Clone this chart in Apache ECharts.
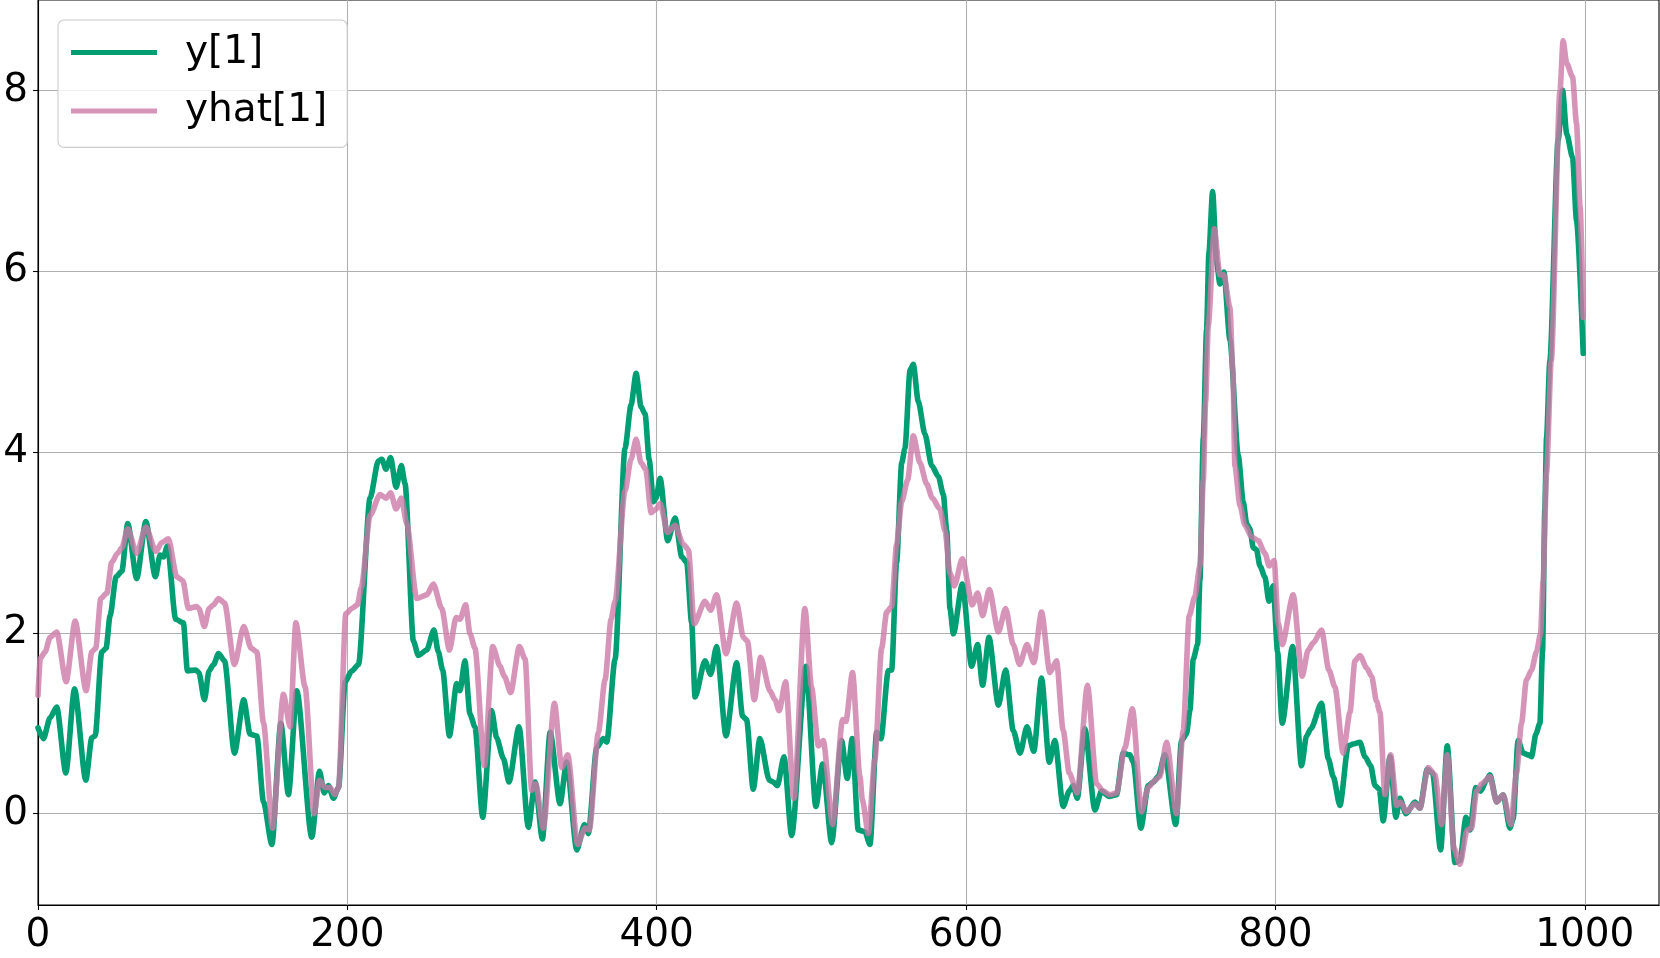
<!DOCTYPE html>
<html>
<head>
<meta charset="utf-8">
<script src="https://cdn.jsdelivr.net/npm/echarts@6.0.0/dist/echarts.min.js"></script>
<style>
  html, body { margin: 0; padding: 0; background: #ffffff; }
  #chart { width: 1660px; height: 958px; }
</style>
</head>
<body>
<div id="chart"></div>
<script>
// ---- data ----
const seriesNames = ['y[1]', 'yhat[1]'];
const xTicks = [0, 200, 400, 600, 800, 1000];
const yTicks = [0, 2, 4, 6, 8];

const xG = [0,3.5,7.8,12.1,18,23.6,30.9,34.8,37,41.2,44,46.6,50.5,54.2,58,63.8,69.7,75.9,78.9,81.1,83.7,89,94,96.6,102,104,107.6,110.6,113.5,116.7,120.6,127,133,137.1,141.5,145.8,151.2,157,161.9,167.3,177,182,185,187.8,191,194.3,198.6,202.9,207.2,214.7,220,222.2,225,228,231.5,234.9,237.3,242.7,245.9,251.3,256,258.8,261.6,266,270.7,272.8,276,279.3,282.5,287.5,293.3,296.5,300.9,304.5,311,317,321.4,326.1,331.1,337.5,341.8,348.3,353.3,355.8,361.2,365.5,367.7,373.1,379.5,383.4,386.7,389.9,392.5,395.1,397.9,399.6,402.2,407.1,411.9,416.2,419.4,422.6,424.8,431.2,434.9,438.7,444.8,451.7,455.5,458.1,462.4,466.7,472.8,475.4,478,482.3,487.2,496.5,502.9,507.3,513.1,519.5,523.2,526.4,530.3,534.6,537.9,542.2,545,549.7,551.9,555.1,558.4,560.5,563.8,565.9,569.1,573.4,577.8,582.1,585.3,587.5,589.6,591.8,597.6,603.6,607.5,610.7,614.8,620.9,625.6,630.5,634.9,639.4,643.8,648.8,653.8,657.4,662.8,666.7,669.3,671.9,676.8,683.3,687.6,692.5,697.3,701.6,705.9,708.1,713,717.8,721,724.2,728.5,735.6,739.3,742.5,744.7,746.9,749.7,751.2,753.4,755.5,757,759.4,762,764.1,766.7,770.6,776,779.2,781.4,783.5,785.7,787.8,790,793.2,795.8,798.6,801.4,804.4,811.1,816.9,820.1,822.9,829.8,834.2,837.4,841.7,847.1,850.3,854.7,857.9,861.6,864.4,867.2,869.7,874.1,877.9,880.5,884.4,890.2,893.4,898.2,901.6,906.8,911.1,916.1,919.3,923.2,925.8,929.6,932.7,936.5,938.7,943,947.3,951.6,953.7,956.9,960.2,963.4,965.6,968.4,971,972.7,974.2,975.3,977.4,982.8,985.7,988.3,992.1,994.7,999];
const yG = [0.95,0.83,1.06,1.18,0.45,1.38,0.37,0.84,0.86,1.79,1.83,2.19,2.62,2.68,3.21,2.60,3.23,2.62,2.86,2.84,2.96,2.15,2.11,1.58,1.59,1.56,1.26,1.58,1.65,1.77,1.69,0.67,1.26,0.88,0.86,0.13,-0.34,1.0,0.21,1.36,-0.26,0.47,0.23,0.31,0.17,0.29,1.46,1.58,1.65,3.49,3.90,3.92,3.81,3.94,3.61,3.85,3.65,1.91,1.75,1.81,2.03,1.79,1.59,0.86,1.44,1.36,1.69,1.10,0.96,-0.04,1.14,0.84,0.61,0.35,0.96,-0.15,0.35,-0.28,0.90,0.11,0.57,-0.40,-0.12,-0.22,0.73,0.83,0.79,1.71,4.04,4.52,4.87,4.50,4.42,3.92,3.45,3.49,3.71,3.02,3.27,2.84,2.78,2.11,1.29,1.69,1.54,1.85,0.86,1.67,1.08,1.04,0.27,0.83,0.37,0.35,0.31,0.63,-0.24,1.63,0.08,0.55,-0.32,0.81,0.39,0.83,-0.18,-0.20,-0.34,0.90,0.83,1.58,1.59,2.78,3.88,4.04,4.91,4.97,4.56,4.20,3.85,3.73,3.53,3.13,2.27,1.99,2.54,1.63,1.87,1.42,1.95,1.20,1.59,0.92,0.67,0.96,0.69,1.50,0.57,0.81,0.08,0.25,0.31,0.17,0.94,0.04,0.25,0.19,0.21,0.67,0.65,0.57,-0.16,0.31,0.35,0.41,0.65,-0.12,0.81,0.88,1.14,1.71,1.87,2.58,4.16,5.35,6.2,6.88,6.1,5.86,5.99,5.24,3.96,3.45,3.21,3.15,2.94,2.92,2.74,2.62,2.35,2.52,1.79,1.0,1.85,0.53,0.86,0.94,1.22,0.61,0.41,0.09,0.75,0.77,0.79,0.63,0.53,0.31,0.27,-0.08,0.63,-0.04,0.17,0.0,0.13,0.06,0.49,0.45,-0.40,0.75,-0.54,-0.52,-0.04,-0.18,0.29,0.25,0.37,0.43,0.13,0.21,-0.16,-0.06,0.81,0.67,0.65,0.63,0.88,1.0,1.79,3.37,4.16,5.0,7.45,8.0,7.52,7.26,6.56,5.09];

const xP = [0,1.5,4.6,7.8,12.1,18.2,24,31.1,34.8,37.3,40.6,44.5,47.7,51.4,54.2,58,63.8,69.7,76.3,80,84.3,89.7,93.6,97.2,102.6,104,107.6,110.6,113.5,116.7,120.6,127,133,137.8,141.5,145.8,151.6,158.7,163,166.7,172.7,178.5,182,185.6,188.9,192,194.3,199,202.9,206.5,209,214.7,221.1,225,228,231.5,234.9,238.4,244.8,251.3,255.6,261,266,270.3,272.8,276.5,279.3,282.5,288.6,294,298.7,301.5,305.6,311.2,314.9,319.2,321.8,326.7,333.9,338.6,342.5,348.9,353.7,356.5,362.3,366.6,370.5,373.1,379.5,383.4,386.7,389.9,392.9,396.4,399.6,402.2,407.1,411.9,417.2,420.5,424.2,431.2,434.9,438.7,444.8,451.7,456,458.6,463.1,467.2,473.2,476.4,479.2,483.3,488.7,495.8,500.1,504.5,507.7,513.7,520.2,522.3,526.6,531.4,533,536.8,541.1,545.4,548.7,551.9,555.1,558.4,562.2,565.9,570.2,574.5,578.2,583.1,586.4,589.6,592.4,597.6,604,607.5,610.7,615,620.9,625.6,630.5,634.6,639.4,643.8,648.8,654.2,658.5,662.8,666.7,671.9,678.5,684.4,688.7,693,697.3,702.7,707.6,713.4,717.8,722.1,725.3,729.6,736.1,740.4,744.3,747.9,751.2,753.4,754.9,756.6,760.5,764.1,766.7,770.6,772.5,773.8,777.1,780.3,784.6,788.9,793.2,796,799.2,801.8,804.4,811.5,817.3,821.2,824.5,829.8,834.6,838.5,843.8,848.2,851.4,854.7,859,862.2,865.4,867.6,870.8,874.5,878.4,880.9,884.8,890.2,893.4,898.8,903.1,907.5,911.1,915.4,919.3,924,926.8,930.1,933.3,938.7,943,947.3,952.2,955.9,959.1,962.3,965.6,968.8,971.4,973.1,975.3,978.3,984,986,988.3,992.1,994.7,997,999];
const yP = [1.31,1.72,1.79,1.95,2.01,1.46,2.13,1.36,1.79,1.83,2.38,2.44,2.78,2.88,2.94,3.15,2.88,3.17,2.90,3.0,3.04,2.62,2.58,2.27,2.29,2.27,2.07,2.27,2.31,2.38,2.33,1.65,2.07,1.83,1.79,1.0,-0.16,1.32,0.96,2.11,1.40,0.0,0.37,0.29,0.29,0.21,0.29,2.21,2.27,2.31,2.50,3.30,3.53,3.49,3.55,3.37,3.49,3.21,2.38,2.42,2.54,2.27,1.81,2.17,2.15,2.31,1.99,1.83,0.53,1.85,1.63,1.52,1.34,1.85,1.71,0.26,0.33,-0.16,1.22,0.51,0.65,-0.34,-0.16,-0.18,0.90,1.48,2.15,2.35,3.57,3.92,4.14,3.88,3.81,3.33,3.37,3.43,3.11,3.19,2.98,2.92,2.10,2.35,2.25,2.42,1.77,2.33,1.95,1.91,1.26,1.73,1.36,1.26,1.14,1.46,0.17,2.27,1.40,0.75,0.81,-0.12,1.04,1.02,1.56,0.41,0.15,-0.22,0.61,1.83,2.23,2.29,2.98,3.45,3.69,4.18,3.88,3.65,3.49,3.37,3.13,2.66,2.52,2.82,2.31,2.44,2.19,2.48,2.01,2.27,1.87,1.65,1.87,1.67,2.23,1.56,1.69,0.92,0.45,0.23,1.42,0.33,0.25,0.21,0.23,0.73,1.16,0.02,0.29,0.37,0.41,0.79,0.0,0.92,2.19,2.40,2.74,3.69,4.56,5.4,6.47,5.96,5.96,5.60,4.9,3.85,3.41,3.19,3.06,3.02,2.88,2.74,2.80,2.11,1.87,2.42,1.52,1.81,1.89,2.03,1.59,1.40,0.67,1.12,1.69,1.75,1.61,1.52,1.24,1.12,0.21,0.65,0.09,0.13,0.02,0.11,0.06,0.51,0.43,-0.12,0.65,-0.38,-0.56,-0.18,-0.16,0.25,0.33,0.41,0.13,0.21,-0.12,0.45,1.0,1.48,1.59,1.79,1.99,2.58,3.77,5.0,8.0,8.55,8.30,8.15,7.63,6.71,5.49];

const colorY = '#009e73';
const colorYhat = '#cc79a7';

const pairs = (xs, ys) => xs.map((x, i) => [x, ys[i]]);

const chart = echarts.init(document.getElementById('chart'), null, { renderer: 'canvas' });
const font = 'DejaVu Sans';
chart.setOption({
  animation: false,
  backgroundColor: '#ffffff',
  textStyle: { fontFamily: font },
  grid: {
    left: 38, top: 0, width: 1621, height: 905,
    show: true, borderColor: '#000000', borderWidth: 1.1, backgroundColor: 'transparent'
  },
  legend: {
    left: 58, top: 20,
    orient: 'vertical',
    selectedMode: false,
    icon: 'rect',
    itemWidth: 86, itemHeight: 5,
    itemGap: 19.4,
    padding: [13, 20, 17, 13],
    backgroundColor: 'rgba(255,255,255,0.8)',
    borderColor: '#cccccc', borderWidth: 1.1, borderRadius: 6,
    textStyle: { fontFamily: font, fontSize: 39, lineHeight: 39, color: '#000000', padding: [0, 0, 0, 23] },
    data: [
      { name: seriesNames[0], itemStyle: { color: colorY, borderWidth: 0 } },
      { name: seriesNames[1], itemStyle: { color: 'rgba(204,121,167,0.8)', borderWidth: 0 } }
    ]
  },
  xAxis: {
    type: 'value', min: 0, max: 1048,
    axisLine: { show: true, onZero: false, lineStyle: { color: '#000000', width: 1.1 } },
    axisTick: { show: true, length: 5, inside: false, customValues: xTicks, lineStyle: { color: '#000000', width: 1.1 } },
    axisLabel: { customValues: xTicks, formatter: (v) => String(v), fontFamily: font, fontSize: 39, color: '#000000', margin: 11 },
    splitLine: { show: true, lineStyle: { color: '#b0b0b0', width: 1.1 } }
  },
  yAxis: {
    type: 'value', min: -1.01, max: 9.0,
    axisLine: { show: true, onZero: false, lineStyle: { color: '#000000', width: 1.1 } },
    axisTick: { show: true, length: 5, inside: false, customValues: yTicks, lineStyle: { color: '#000000', width: 1.1 } },
    axisLabel: { customValues: yTicks, formatter: (v) => String(v), fontFamily: font, fontSize: 39, color: '#000000', margin: 10 },
    splitLine: { show: true, lineStyle: { color: '#b0b0b0', width: 1.1 } }
  },
  series: [
    {
      name: seriesNames[0], type: 'line', data: pairs(xG, yG),
      showSymbol: false, symbol: 'none', smooth: 0.25, smoothMonotone: 'x',
      lineStyle: { color: colorY, width: 5.6, cap: 'round', join: 'round' },
      itemStyle: { color: colorY }, z: 2
    },
    {
      name: seriesNames[1], type: 'line', data: pairs(xP, yP),
      showSymbol: false, symbol: 'none', smooth: 0.25, smoothMonotone: 'x',
      lineStyle: { color: colorYhat, width: 5.6, opacity: 0.8, cap: 'round', join: 'round' },
      itemStyle: { color: colorYhat }, z: 3
    }
  ]
});
</script>
</body>
</html>
